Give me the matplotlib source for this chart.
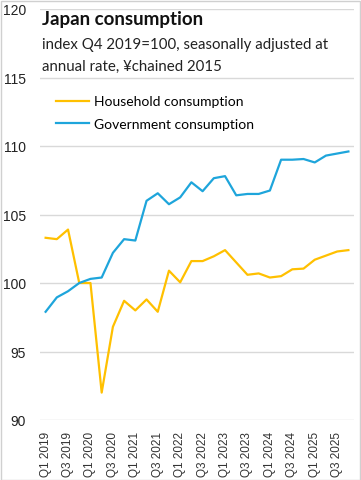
import matplotlib
matplotlib.use("Agg")
import matplotlib.pyplot as plt
from matplotlib.patches import Rectangle

quarters = [f"Q{q} {y}" for y in range(2019, 2026) for q in range(1, 5)]
household = [103.3, 103.2, 103.9, 100.0, 100.0, 92.0, 96.8, 98.7, 98.0, 98.8, 97.9, 100.9,
             100.05, 101.6, 101.6, 101.95, 102.4, 101.5, 100.6, 100.7, 100.4, 100.5, 101.0, 101.05,
             101.7, 102.0, 102.3, 102.4]
government = [97.9, 98.95, 99.4, 100.0, 100.3, 100.4, 102.2, 103.2, 103.1, 106.0, 106.55, 105.75,
              106.25, 107.35, 106.7, 107.65, 107.8, 106.4, 106.5, 106.5, 106.75, 109.0, 109.0, 109.05,
              108.8, 109.3, 109.45, 109.6]
yticks = [90, 95, 100, 105, 110, 115, 120]

W, H = 361, 481
fig = plt.figure(figsize=(W / 100, H / 100), dpi=100)
ax = fig.add_axes([40 / W, 1 - 421 / H, (354 - 40) / W, (421 - 10) / H])

x = list(range(len(quarters)))
ax.plot(x, household, color="#FFC000", lw=1.6, label="Household consumption", solid_joinstyle="round")
ax.plot(x, government, color="#1EA5DB", lw=1.6, label="Government consumption", solid_joinstyle="round")

ax.set_xlim(-0.5, len(quarters) - 0.5)
ax.set_ylim(90, 120)
ax.set_yticks(yticks)
ax.set_yticklabels([str(v) for v in yticks], fontsize=10, family="Liberation Sans", color="#222222")
ax.set_xticks(x[::2])
ax.set_xticklabels(quarters[::2], rotation=90, fontsize=8.5, family="Liberation Sans", color="#333333")
ax.tick_params(axis="y", length=0, pad=10)
ax.tick_params(axis="x", length=0, pad=8)
ax.grid(axis="y", color="#D9D9D9", lw=1)
ax.set_axisbelow(True)
for s in ax.spines.values():
    s.set_visible(False)

fig.text(42 / W, 1 - 20 / H, "Japan consumption", fontsize=13.5, fontweight="bold",
         family="Lato", va="center", ha="left", color="#111111")
fig.text(42 / W, 1 - 45 / H, "index Q4 2019=100, seasonally adjusted at", fontsize=10.8,
         family="Lato", va="center", ha="left", color="#222222")
fig.text(42 / W, 1 - 67 / H, "annual rate, \u00a5chained 2015", fontsize=10.8,
         family="Lato", va="center", ha="left", color="#222222")

leg = fig.legend(loc="upper left", bbox_to_anchor=(43 / W, 1 - 84 / H), frameon=False,
                 prop={"family": "Lato", "size": 10}, handlelength=2.4, handletextpad=0.4,
                 labelspacing=0.75)

fig.patches.append(Rectangle((0.5 / W, 0.5 / H), 1 - 2 / W, 1 - 2 / H, transform=fig.transFigure,
                             fill=False, edgecolor="#D0D0D0", lw=1))
fig.savefig("out.png", dpi=100)
